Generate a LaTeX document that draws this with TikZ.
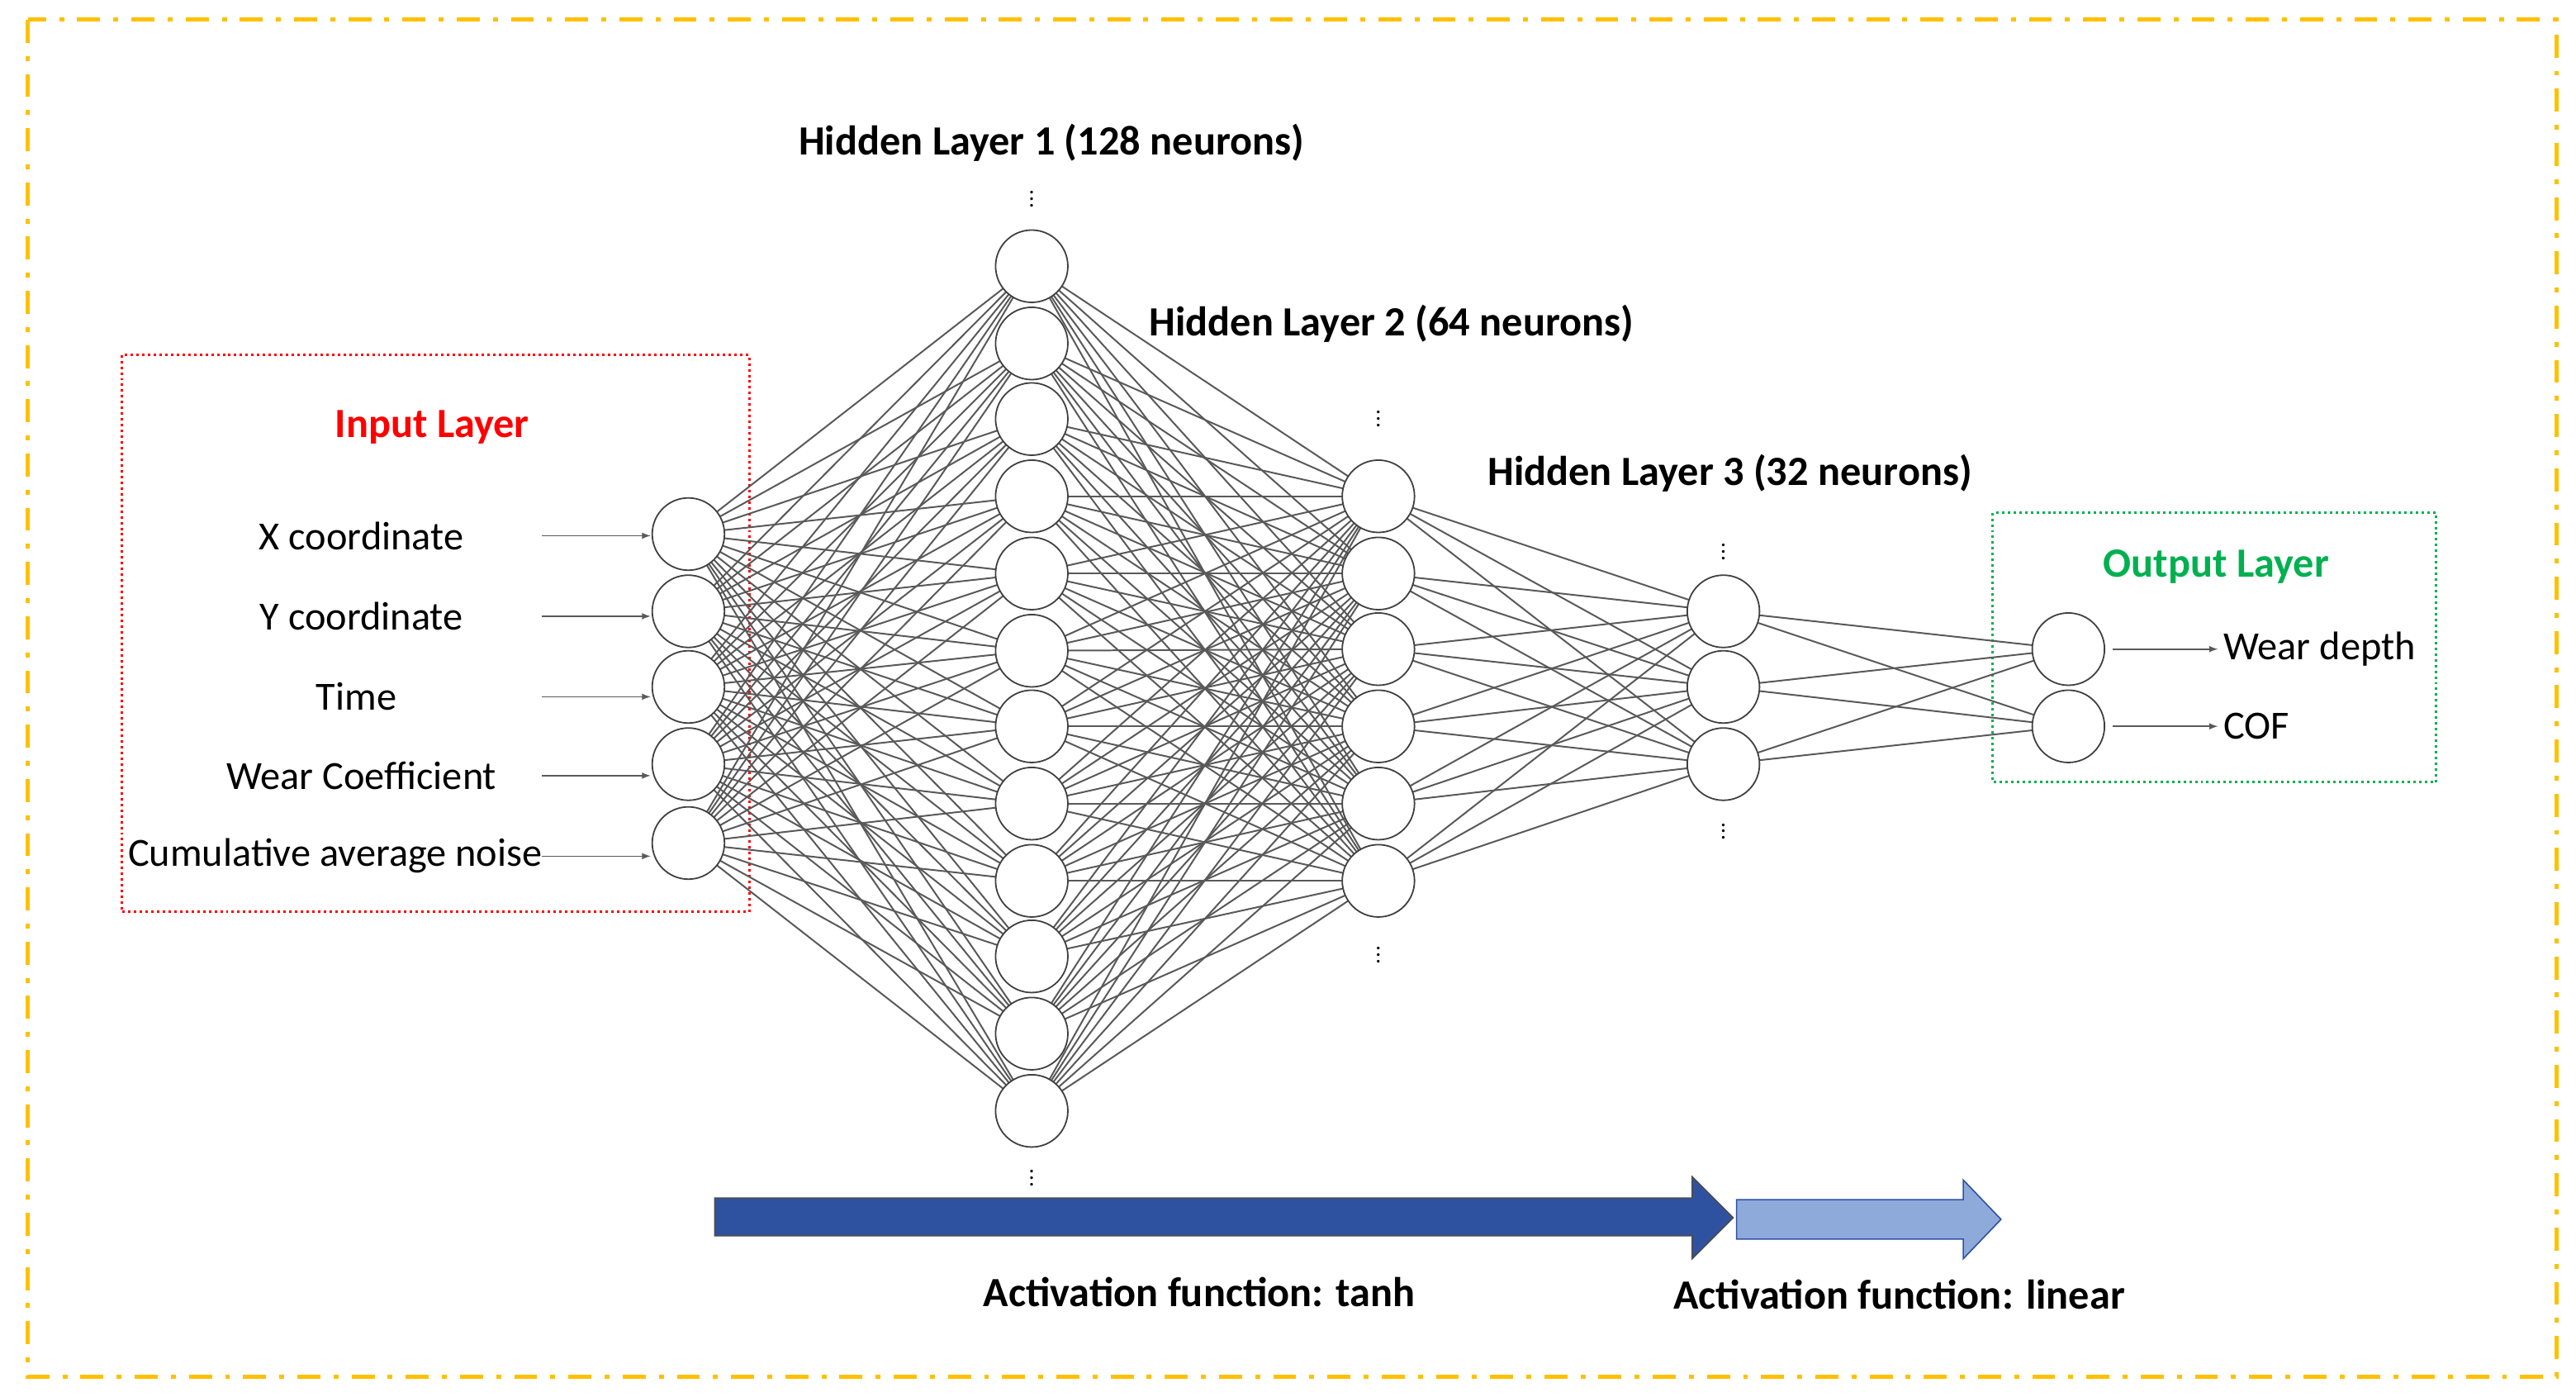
\documentclass[tikz,border=0pt]{standalone}
\usepackage{fontspec}
\setmainfont{Carlito}
\usetikzlibrary{shapes.arrows}
\definecolor{frameor}{RGB}{255,192,0}
\definecolor{inred}{RGB}{255,0,0}
\definecolor{outgreen}{RGB}{0,176,80}
\definecolor{darkb}{RGB}{47,82,160}
\definecolor{lightb}{RGB}{142,170,219}
\begin{document}
\begin{tikzpicture}[x=1pt,y=-1pt,
  neuron/.style={circle,draw=black!75,line width=0.9pt,fill=white,minimum size=44pt,inner sep=0},
  conn/.style={draw=black!65,line width=1pt},
  lbl/.style={font=\fontsize{24.3}{28}\selectfont},
  title/.style={font=\fontsize{25.3}{29}\selectfont\bfseries},
  inarr/.style={draw=black!65,line width=0.8pt,-latex},
  vd/.style={font=\fontsize{14}{14}\selectfont,inner sep=0}]
\useasboundingbox (0,0) rectangle (1568,850);
\draw[frameor,line width=2.5pt,dash pattern=on 14pt off 8pt on 3pt off 8pt] (17,12) rectangle (1556,838);
\draw[inred,line width=1.5pt,dotted] (74,216) rectangle (456,555);
\draw[outgreen,line width=1.5pt,dotted] (1213,312) rectangle (1483,476);
\foreach \y [count=\i] in {325,372,418,465,513} \coordinate (pi\i) at (419,\y);
\foreach \y [count=\i] in {162,209,255,302,349,396,442,489,536,582,629,676} \coordinate (pa\i) at (628,\y);
\foreach \y [count=\i] in {302,349,395,442,489,536} \coordinate (pb\i) at (839,\y);
\foreach \y [count=\i] in {372,418,465} \coordinate (pc\i) at (1049,\y);
\foreach \y [count=\i] in {395,442} \coordinate (po\i) at (1259,\y);
\foreach \i in {1,...,5} \foreach \j in {1,...,12} \draw[conn] (pi\i) -- (pa\j);
\foreach \i in {1,...,12} \foreach \j in {1,...,6} \draw[conn] (pa\i) -- (pb\j);
\foreach \i in {1,...,6} \foreach \j in {1,2,3} \draw[conn] (pb\i) -- (pc\j);
\foreach \i in {1,2,3} \foreach \j in {1,2} \draw[conn] (pc\i) -- (po\j);
\foreach \i in {1,...,5} \node[neuron] (in\i) at (pi\i) {};
\foreach \i in {1,...,12} \node[neuron] (ha\i) at (pa\i) {};
\foreach \i in {1,...,6} \node[neuron] (hb\i) at (pb\i) {};
\foreach \i in {1,2,3} \node[neuron] (hc\i) at (pc\i) {};
\foreach \i in {1,2} \node[neuron] (out\i) at (po\i) {};
\node[vd] (d1) at (628,118) {$\vdots$};
\node[vd] (d2) at (628,714) {$\vdots$};
\node[vd] (d3) at (839,252) {$\vdots$};
\node[vd] (d4) at (839,578) {$\vdots$};
\node[vd] (d5) at (1049,333) {$\vdots$};
\node[vd] (d6) at (1049,503) {$\vdots$};
\node[title] (t1) at (640,87) {Hidden Layer 1 (128 neurons)};
\node[title] (t2) at (847,197) {Hidden Layer 2 (64 neurons)};
\node[title] (t3) at (1053,288) {Hidden Layer 3 (32 neurons)};
\node[title,text=inred] (til) at (263,260) {Input Layer};
\node[title,text=outgreen] (tol) at (1349,345) {Output Layer};
\foreach \t/\x/\y [count=\i] in {X coordinate/220/326,Y coordinate/220/375,Time/217/424,Wear Coefficient/220/472,Cumulative average noise/204/521}{
  \node[lbl] (il\i) at (\x,\y) {\t};
  \coordinate (ia\i) at (330,\y);
  \coordinate (ib\i) at (396,\y);
  \draw[inarr] (ia\i) -- (ib\i);
}
\coordinate (oa1) at (1286,395); \coordinate (oa2) at (1286,442);
\node[lbl,anchor=west] (ol1) at (1350,395) {Wear depth};
\node[lbl,anchor=west] (ol2) at (1350,442) {COF};
\draw[inarr] (oa1) -- (ol1.west);
\draw[inarr] (oa2) -- (ol2.west);
\fill[darkb,draw=black!70,line width=0.8pt] (435,729) -- (1030,729) -- (1030,716) -- (1055,741) -- (1030,766) -- (1030,752) -- (435,752) -- cycle;
\fill[lightb,draw=darkb,line width=0.8pt] (1057,730) -- (1195,730) -- (1195,718) -- (1218,742) -- (1195,766) -- (1195,754) -- (1057,754) -- cycle;
\node[title] (a1) at (730,786) {Activation function: tanh};
\node[title] (a2) at (1156,788) {Activation function: linear};
\end{tikzpicture}
\end{document}
